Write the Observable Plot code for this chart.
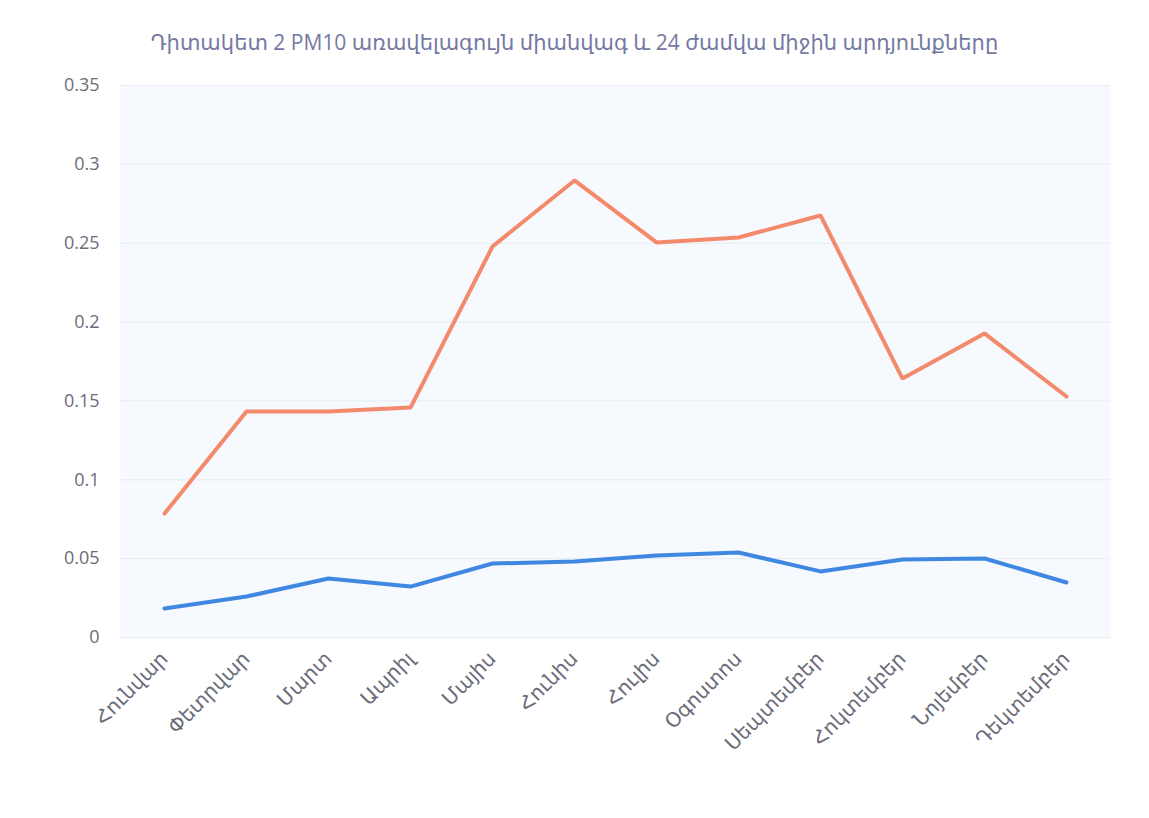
<!DOCTYPE html>
<html>
<head>
<meta charset="utf-8">
<script src="https://cdn.jsdelivr.net/npm/d3@7"></script>
<script src="https://cdn.jsdelivr.net/npm/@observablehq/plot@0.6"></script>
<style>
  html, body { margin: 0; padding: 0; background: #ffffff; }
  body { width: 1149px; height: 818px; overflow: hidden; font-family: "Open Sans", "DejaVu Sans", sans-serif; }
  #title { height: 70px; line-height: 84px; text-align: center; font-size: 21px; color: #7479a3; white-space: nowrap; }
  #chart svg { display: block; }
</style>
</head>
<body>
<div id="title">Դիտակետ 2 PM10 առավելագույն միանվագ և 24 ժամվա միջին արդյունքները</div>
<div id="chart"></div>
<script>
const months = ["Հունվար", "Փետրվար", "Մարտ", "Ապրիլ", "Մայիս", "Հունիս", "Հուլիս", "Օգոստոս", "Սեպտեմբեր", "Հոկտեմբեր", "Նոյեմբեր", "Դեկտեմբեր"];
const maxValues = [0.0786, 0.1433, 0.1433, 0.1458, 0.2479, 0.2898, 0.2505, 0.2536, 0.2676, 0.1642, 0.1928, 0.1528];
const meanValues = [0.0184, 0.0260, 0.0374, 0.0323, 0.0469, 0.0482, 0.0520, 0.0539, 0.0419, 0.0495, 0.0501, 0.0349];
const yTicks = [0, 0.05, 0.1, 0.15, 0.2, 0.25, 0.3, 0.35];

const maxRows = months.map((m, i) => ({month: m, value: maxValues[i]}));
const meanRows = months.map((m, i) => ({month: m, value: meanValues[i]}));

const chart = Plot.plot({
  width: 1149,
  height: 748,
  marginTop: 15,
  marginBottom: 181,
  marginLeft: 120,
  marginRight: 39,
  style: {fontFamily: "'Open Sans', 'DejaVu Sans', sans-serif", fontSize: "18px", color: "#6b6c7a", background: "transparent"},
  x: {type: "point", domain: months, padding: 0.5, label: null},
  y: {domain: [0, 0.35], label: null},
  marks: [
    Plot.frame({fill: "#f6f9fd", stroke: null}),
    Plot.gridY(yTicks, {stroke: "#e6ecf3", strokeOpacity: 1}),
    Plot.axisY(yTicks, {tickFormat: d => String(d), tickSize: 0, tickPadding: 21, fontSize: 18, label: null}),
    Plot.axisX({tickSize: 0, tickRotate: -45, tickPadding: 18, fontSize: 20, label: null}),
    Plot.lineY(maxRows, {x: "month", y: "value", stroke: "#f48a6c", strokeWidth: 4, strokeLinejoin: "miter"}),
    Plot.lineY(meanRows, {x: "month", y: "value", stroke: "#3f88e2", strokeWidth: 4, strokeLinejoin: "miter"})
  ]
});
document.getElementById("chart").appendChild(chart);
</script>
</body>
</html>
